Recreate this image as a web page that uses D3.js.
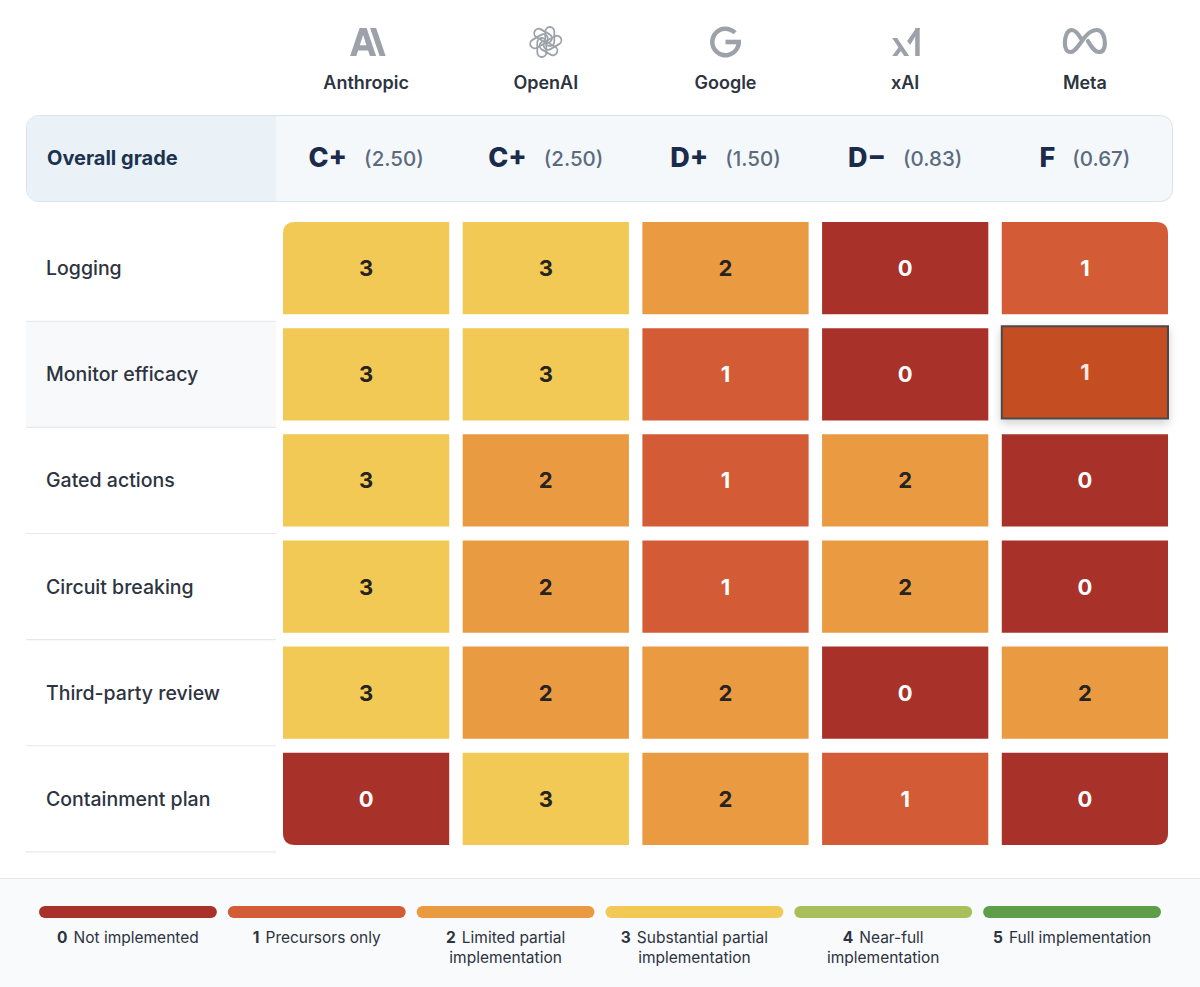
<!DOCTYPE html>
<html>
<head>
<meta charset="utf-8">
<title>Control scorecard</title>
<style>
    body { margin: 0; background: #ffffff; }
    svg { display: block; font-family: Inter, "Noto Sans", sans-serif; }
</style>
<script src="https://cdn.jsdelivr.net/npm/d3@7"></script>
</head>
<body>
<div id="chart"></div>
<script>
    var companies = ['Anthropic', 'OpenAI', 'Google', 'xAI', 'Meta'];
    var grades = ['C+', 'C+', 'D+', 'D\u2212', 'F'];
    var gradePoints = ['2.50', '2.50', '1.50', '0.83', '0.67'];
    var criteria = ['Logging', 'Monitor efficacy', 'Gated actions', 'Circuit breaking', 'Third-party review', 'Containment plan'];
    // one row per criterion, one value per company
    var scores = [
        [3, 3, 2, 0, 1],
        [3, 3, 1, 0, 1],
        [3, 2, 1, 2, 0],
        [3, 2, 1, 2, 0],
        [3, 2, 2, 0, 2],
        [0, 3, 2, 1, 0]
    ];
    var levels = [0, 1, 2, 3, 4, 5];
    var levelLabels = [
        ['Not implemented'],
        ['Precursors only'],
        ['Limited partial', 'implementation'],
        ['Substantial partial', 'implementation'],
        ['Near-full', 'implementation'],
        ['Full implementation']
    ];
    var levelColors = ['#a8322a', '#d35c36', '#ea9a40', '#f2c955', '#a8bf5a', '#5e9e48'];
    // the hovered cell in the picture
    var hovered = { row: 1, col: 4 };

    var width = 1200, height = 987;

    var svg = d3.select('#chart').append('svg')
        .attr('width', width)
        .attr('height', height);

    var defs = svg.append('defs');
    var shadow = defs.append('filter').attr('id', 'shadow')
        .attr('x', '-20%').attr('y', '-20%').attr('width', '140%').attr('height', '150%');
    shadow.append('feDropShadow')
        .attr('dx', 0).attr('dy', 4).attr('stdDeviation', 5)
        .attr('flood-color', '#000').attr('flood-opacity', 0.18);

    var x = d3.scaleBand().domain(d3.range(companies.length)).range([283, 1168]).paddingInner(0.075);
    var y = d3.scaleBand().domain(d3.range(criteria.length)).range([222, 845]).paddingInner(0.13);
    var color = d3.scaleOrdinal().domain(levels).range(levelColors);

    var labelLeft = 26, labelRight = 276;

    // ---- header: logos and names
    var header = svg.append('g');
    var heads = header.selectAll('g.head')
        .data(companies)
        .enter().append('g')
            .attr('class', 'head')
            .attr('transform', function(d, i) { return 'translate(' + (x(i) + x.bandwidth() / 2) + ',0)'; });

    heads.append('text')
        .attr('y', 89)
        .attr('text-anchor', 'middle')
        .attr('font-size', 18)
        .attr('font-weight', 600)
        .attr('fill', '#2d3340')
        .text(function(d) { return d; });

    var logoColor = '#9ca1aa';
    heads.each(function(d) {
        var g = d3.select(this).append('g').attr('transform', 'translate(0,42)');
        if (d === 'Anthropic') {
            g.append('path')
                .attr('d', 'M-16,14 L-6.5,-14 L0.5,-14 L10,14 L3.8,14 L2,8.4 L-8,8.4 L-9.8,14 Z M-6.3,3.2 L0.3,3.2 L-3,-7 Z')
                .attr('fill', logoColor).attr('fill-rule', 'evenodd');
            g.append('path')
                .attr('d', 'M4,-14 L10,-14 L19.5,14 L13.5,14 Z')
                .attr('fill', logoColor);
        } else if (d === 'OpenAI') {
            for (var k = 0; k < 6; k++) {
                g.append('rect')
                    .attr('x', -4.5).attr('y', -15).attr('width', 9).attr('height', 19).attr('rx', 4.5)
                    .attr('transform', 'rotate(' + (k * 60) + ') translate(4,0)')
                    .attr('fill', 'none').attr('stroke', logoColor).attr('stroke-width', 1.8);
            }
        } else if (d === 'Google') {
            g.append('path')
                .attr('d', d3.arc()({ innerRadius: 11, outerRadius: 15.5, startAngle: Math.PI / 2, endAngle: 2 * Math.PI + 0.8 }))
                .attr('fill', logoColor);
            g.append('rect').attr('x', 0).attr('y', -2.3).attr('width', 15.5).attr('height', 4.6).attr('fill', logoColor);
        } else if (d === 'xAI') {
            g.append('path')
                .attr('d', 'M-13,-4 L-8,-4 L4,14 L-1,14 Z M-13,14 L-6.5,5 L-4,8.5 L-8,14 Z M2,-1 L11,-14 L15,-14 L5,3 Z')
                .attr('fill', logoColor);
            g.append('rect').attr('x', 10).attr('y', -14).attr('width', 4.5).attr('height', 28).attr('fill', logoColor);
        } else if (d === 'Meta') {
            g.append('path')
                .attr('d', 'M-3,-2 C-7,-9 -10,-12 -13,-12 C-18,-12 -20,-5 -20,1 C-20,7 -18,10 -14.5,10 C-10,10 -6,3 0,-5 C5,-11 8,-12 12,-12 C17,-12 20,-6 20,1 C20,7 18,10 14,10 C10,10 7,6 3,-1')
                .attr('fill', 'none').attr('stroke', logoColor).attr('stroke-width', 4.2).attr('stroke-linecap', 'round');
        }
    });

    // ---- overall grade panel
    var panelTop = 115, panelH = 86;
    svg.append('rect')
        .attr('x', labelLeft + 0.5).attr('y', panelTop + 0.5)
        .attr('width', 1173 - labelLeft - 1).attr('height', panelH)
        .attr('rx', 12)
        .attr('fill', '#f5f8fa')
        .attr('stroke', '#d9e3ea');
    svg.append('path')
        .attr('d', 'M' + (labelRight) + ',' + (panelTop + 1) +
            ' L' + (labelLeft + 13) + ',' + (panelTop + 1) +
            ' Q' + (labelLeft + 1) + ',' + (panelTop + 1) + ' ' + (labelLeft + 1) + ',' + (panelTop + 13) +
            ' L' + (labelLeft + 1) + ',' + (panelTop + panelH - 12) +
            ' Q' + (labelLeft + 1) + ',' + (panelTop + panelH) + ' ' + (labelLeft + 13) + ',' + (panelTop + panelH) +
            ' L' + labelRight + ',' + (panelTop + panelH) + ' Z')
        .attr('fill', '#ebf2f7');
    svg.append('text')
        .attr('x', 47).attr('y', panelTop + panelH / 2 + 7)
        .attr('font-size', 20).attr('font-weight', 700)
        .attr('fill', '#1c3350')
        .text('Overall grade');

    var gradeG = svg.selectAll('g.grade')
        .data(companies)
        .enter().append('g')
            .attr('class', 'grade');
    gradeG.each(function(d, i) {
        var g = d3.select(this);
        var letter = g.append('text')
            .attr('y', panelTop + panelH / 2 + 9)
            .attr('font-size', 27).attr('font-weight', 800)
            .attr('fill', '#1a2b4c')
            .text(grades[i]);
        var pts = g.append('text')
            .attr('y', panelTop + panelH / 2 + 8)
            .attr('font-size', 20.5).attr('font-weight', 500)
            .attr('fill', '#5b6b7f')
            .text('(' + gradePoints[i] + ')');
        var w1 = letter.node().getComputedTextLength();
        var w2 = pts.node().getComputedTextLength();
        var gap = 17;
        var start = x(i) + x.bandwidth() / 2 - (w1 + gap + w2) / 2;
        letter.attr('x', start);
        pts.attr('x', start + w1 + gap);
    });

    // ---- row labels
    var rowsG = svg.append('g');
    rowsG.append('rect')
        .attr('x', labelLeft).attr('y', y(hovered.row) - y.step() * y.paddingInner() / 2)
        .attr('width', labelRight - labelLeft).attr('height', y.step())
        .attr('fill', '#f7f9fa');

    rowsG.selectAll('line.sep')
        .data(criteria)
        .enter().append('line')
            .attr('class', 'sep')
            .attr('x1', labelLeft).attr('x2', labelRight)
            .attr('y1', function(d, i) { return y(i) + y.bandwidth() + (y.step() - y.bandwidth()) / 2; })
            .attr('y2', function(d, i) { return y(i) + y.bandwidth() + (y.step() - y.bandwidth()) / 2; })
            .attr('stroke', '#e6e9ec').attr('stroke-width', 1.2);

    rowsG.selectAll('text.crit')
        .data(criteria)
        .enter().append('text')
            .attr('class', 'crit')
            .attr('x', 46)
            .attr('y', function(d, i) { return y(i) + y.bandwidth() / 2 + 7; })
            .attr('font-size', 19.5).attr('font-weight', 500)
            .attr('fill', '#2d3340')
            .text(function(d) { return d; });

    // ---- cells
    var cells = [];
    scores.forEach(function(row, r) {
        row.forEach(function(v, c) { cells.push({ row: r, col: c, value: v }); });
    });

    var lastRow = criteria.length - 1, lastCol = companies.length - 1;
    var rad = 12;

    function cellPath(d) {
        var x0 = x(d.col), y0 = y(d.row), w = x.bandwidth(), h = y.bandwidth();
        var tl = (d.row === 0 && d.col === 0) ? rad : 0;
        var tr = (d.row === 0 && d.col === lastCol) ? rad : 0;
        var br = (d.row === lastRow && d.col === lastCol) ? rad : 0;
        var bl = (d.row === lastRow && d.col === 0) ? rad : 0;
        return 'M' + (x0 + tl) + ',' + y0 +
            ' L' + (x0 + w - tr) + ',' + y0 +
            (tr ? ' Q' + (x0 + w) + ',' + y0 + ' ' + (x0 + w) + ',' + (y0 + tr) : '') +
            ' L' + (x0 + w) + ',' + (y0 + h - br) +
            (br ? ' Q' + (x0 + w) + ',' + (y0 + h) + ' ' + (x0 + w - br) + ',' + (y0 + h) : '') +
            ' L' + (x0 + bl) + ',' + (y0 + h) +
            (bl ? ' Q' + x0 + ',' + (y0 + h) + ' ' + x0 + ',' + (y0 + h - bl) : '') +
            ' L' + x0 + ',' + (y0 + tl) +
            (tl ? ' Q' + x0 + ',' + y0 + ' ' + (x0 + tl) + ',' + y0 : '') + ' Z';
    }

    function isHovered(d) { return d.row === hovered.row && d.col === hovered.col; }

    var cellG = svg.append('g').selectAll('g.cell')
        .data(cells)
        .enter().append('g')
            .attr('class', 'cell');

    cellG.append('path')
        .attr('d', cellPath)
        .attr('transform', function(d) { return isHovered(d) ? 'translate(0,-2)' : null; })
        .attr('fill', function(d) { return isHovered(d) ? '#c44d22' : color(d.value); })
        .attr('stroke', function(d) { return isHovered(d) ? '#4d4a48' : 'none'; })
        .attr('stroke-width', 2)
        .attr('filter', function(d) { return isHovered(d) ? 'url(#shadow)' : null; });

    cellG.append('text')
        .attr('x', function(d) { return x(d.col) + x.bandwidth() / 2; })
        .attr('y', function(d) { return y(d.row) + y.bandwidth() / 2 + 8 - (isHovered(d) ? 2 : 0); })
        .attr('text-anchor', 'middle')
        .attr('font-size', 22).attr('font-weight', 700)
        .attr('fill', function(d) {
            if (isHovered(d)) return '#fbe9e2';
            return d.value <= 1 ? '#ffffff' : '#262320';
        })
        .text(function(d) { return d.value; });

    // ---- legend
    var legendTop = 878;
    svg.append('rect')
        .attr('x', 0).attr('y', legendTop)
        .attr('width', width).attr('height', height - legendTop)
        .attr('fill', '#f8fafb');
    svg.append('line')
        .attr('x1', 0).attr('x2', width)
        .attr('y1', legendTop + 0.5).attr('y2', legendTop + 0.5)
        .attr('stroke', '#e6e9ec');

    var lx = d3.scaleBand().domain(levels).range([39, 1161]).paddingInner(0.058);

    var legend = svg.selectAll('g.level')
        .data(levels)
        .enter().append('g')
            .attr('class', 'level');

    legend.append('rect')
        .attr('x', function(d) { return lx(d); })
        .attr('y', 906)
        .attr('width', lx.bandwidth())
        .attr('height', 12)
        .attr('rx', 6)
        .attr('fill', function(d) { return color(d); });

    legend.each(function(d) {
        var g = d3.select(this);
        var cx = lx(d) + lx.bandwidth() / 2;
        levelLabels[d].forEach(function(line, li) {
            var t = g.append('text')
                .attr('x', cx)
                .attr('y', 943 + li * 20)
                .attr('text-anchor', 'middle')
                .attr('font-size', 15.5)
                .attr('fill', '#2d3340');
            if (li === 0) {
                t.append('tspan').attr('font-weight', 700).text(d);
                t.append('tspan').attr('dx', 6).text(line);
            } else {
                t.text(line);
            }
        });
    });
</script>
</body>
</html>
